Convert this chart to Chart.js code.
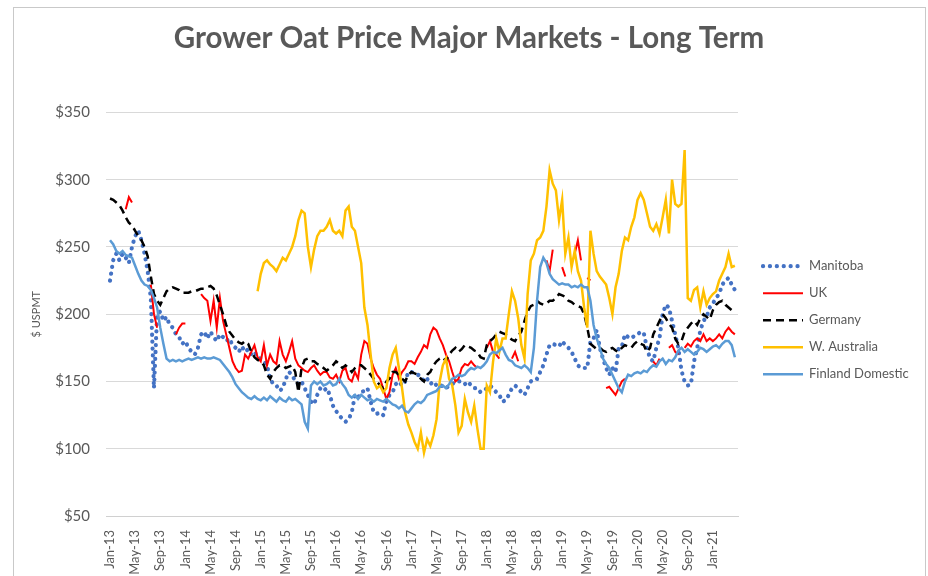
<!DOCTYPE html>
<html>
<head>
<meta charset="utf-8">
<title>Grower Oat Price Major Markets - Long Term</title>
<script src="https://cdn.jsdelivr.net/npm/chart.js@4"></script>
<style>
  html, body { margin: 0; padding: 0; background: #fff; overflow: hidden; }
  #wrap { position: relative; width: 928px; height: 576px; }
  #frame { position: absolute; left: 13px; top: 7px; width: 911px; height: 600px; border: 1px solid #c9c9c9; pointer-events: none; }
</style>
</head>
<body>
<div id="wrap">
  <canvas id="oatChart" width="928" height="576"></canvas>
  <div id="frame"></div>
</div>
<script>
// prices in $ US per tonne, two readings a month from Jan-13 to May-21 (24 per row = one year)
const manitoba = [
  225, 240, 245, 240, 245, 242, 238, 250, 258, 262, 255, 245, 232, 212, 145, 200, 202, 195, 198, 192, 190, 185, 183, 178,
  180, 175, 172, 170, 175, 185, 187, 182, 187, 183, 180, 185, 183, 180, 182, 177, 175, 172, 176, 172, 174, 170, 172, 168,
  167, 165, 162, 152, 148, 147, 143, 145, 152, 157, 155, 150, 148, 150, 145, 140, 135, 133, 140, 145, 143, 145, 140, 132,
  128, 125, 122, 120, 122, 127, 140, 138, 142, 143, 145, 135, 127, 126, 127, 125, 135, 140, 142, 148, 150, 147, 150, 157,
  157, 156, 155, 154, 150, 152, 148, 150, 147, 148, 146, 145, 147, 148, 150, 150, 150, 148, 150, 147, 145, 145, 142, 143,
  145, 147, 145, 142, 140, 135, 136, 140, 145, 147, 145, 142, 140, 145, 150, 152, 152, 157, 162, 170, 177, 178, 177, 176,
  180, 177, 175, 172, 167, 162, 160, 160, 160, 180, 182, 188, 175, 167, 160, 155, 160, 157, 175, 176, 185, 183, 182, 184,
  185, 187, 186, 175, 167, 165, 175, 182, 200, 207, 205, 195, 185, 175, 158, 150, 147, 148, 165, 175, 188, 195, 198, 205,
  208, 212, 215, 222, 225, 227, 222, 218
];

const uk = [
  null, null, null, null, null, 278, 287, 283, null, null, null, null, null, 222, 200, 190, null, null, null, null, null, 185, 190, 193,
  193, null, null, null, null, 215, 212, 210, 195, 210, 190, 212, 195, 185, 175, 165, 160, 157, 158, 170, 167, 172, 177, 168,
  165, 177, 162, 170, 165, 163, 180, 170, 165, 172, 180, 167, 162, 160, 158, 157, 160, 162, 158, 155, 157, 157, 153, 152,
  155, 150, 158, 160, 152, 150, 157, 152, 170, 180, 178, 167, 160, 155, 152, 145, 137, 142, 155, 160, 152, 157, 160, 165,
  165, 163, 168, 172, 177, 175, 185, 190, 188, 182, 177, 170, 165, 157, 150, 152, 160, 163, 162, 165, 162, 160, null, null,
  175, 180, 172, 170, 167, null, null, null, 167, 172, 165, null, null, null, null, null, null, null, null, 240, 232, 248, null, null,
  235, 228, null, null, 245, 255, 240, null, 227, 225, null, null, null, null, 145, 146, 143, 140, 145, 150, 152, null, null, null,
  null, null, null, null, null, 165, 162, 167, null, null, 175, 177, 172, 170, null, 175, 178, 176, 180, 182, 180, 185, 180, 182,
  180, 182, 185, 182, 187, 190, 187, 185
];

const germany = [
  286, 285, 283, 281, 277, 272, 268, 266, 262, 258, 255, 250, 243, 228, 215, 210, 207, 212, 217, 219, 220, 219, 218, 216,
  216, 216, 217, 217, 218, 219, 219, 220, 221, 219, 214, 207, 200, 192, 187, 184, 181, 179, 178, 180, 178, 172, 168, 166,
  165, 162, 155, 152, 157, 160, 162, 162, 160, 161, 162, 157, 142, 160, 166, 167, 165, 165, 163, 162, 160, 158, 160, 162,
  165, 163, 160, 162, 160, 157, 160, 162, 162, 160, 158, 155, 152, 150, 147, 145, 150, 152, 157, 157, 155, 152, 150, 155,
  157, 156, 155, 152, 150, 155, 157, 162, 165, 167, 168, 165, 170, 173, 175, 172, 174, 177, 176, 175, 173, 172, 168, 167,
  177, 180, 182, 185, 187, 186, 185, 183, 181, 180, 184, 187, 195, 202, 206, 207, 210, 208, 207, 208, 210, 210, 212, 215,
  214, 213, 210, 209, 207, 206, 205, 200, 190, 178, 176, 174, 175, 173, 172, 174, 175, 173, 172, 175, 177, 176, 175, 178,
  180, 178, 177, 172, 175, 185, 190, 195, 200, 197, 193, 190, 182, 178, 180, 187, 190, 193, 195, 192, 197, 200, 198, 196,
  203, 207, 209, 210, 207, 205, 203, 202
];

const wAustralia = [
  null, null, null, null, null, null, null, null, null, null, null, null, null, null, null, null, null, null, null, null, null, null, null, null,
  null, null, null, null, null, null, null, null, null, null, null, null, null, null, null, null, null, null, null, null, null, null, null, 217,
  230, 238, 240, 237, 235, 232, 237, 242, 240, 245, 250, 258, 270, 277, 275, 250, 235, 248, 258, 262, 262, 265, 270, 262,
  260, 262, 258, 277, 280, 265, 262, 250, 238, 205, 192, 170, 150, 145, 147, 142, 145, 160, 170, 175, 160, 145, 127, 118,
  112, 105, 100, 112, 97, 107, 102, 110, 122, 150, 162, 167, 152, 147, 132, 112, 117, 137, 127, 120, 132, 115, 100, 100,
  147, 142, 165, 182, 172, 182, 182, 200, 217, 210, 197, 177, 167, 215, 240, 245, 255, 257, 262, 280, 307, 297, 292, 270,
  285, 245, 257, 235, 247, 232, 225, 205, 190, 262, 245, 232, 228, 225, 222, 212, 200, 220, 230, 247, 257, 255, 265, 272,
  285, 290, 285, 275, 265, 262, 267, 260, 272, 285, 260, 300, 282, 280, 282, 322, 212, 210, 218, 220, 205, 217, 207, 212,
  215, 217, 225, 230, 235, 245, 235, 236
];

const finland = [
  255, 252, 247, 245, 247, 244, 243, 242, 236, 230, 225, 222, 221, 218, 212, 205, 190, 178, 167, 165, 166, 165, 166, 165,
  166, 167, 166, 167, 168, 167, 168, 167, 167, 168, 167, 166, 163, 160, 157, 153, 148, 145, 142, 140, 138, 137, 139, 137,
  136, 138, 136, 139, 137, 135, 138, 136, 135, 138, 136, 137, 135, 133, 120, 115, 147, 150, 148, 150, 147, 148, 150, 147,
  148, 152, 148, 145, 140, 138, 140, 137, 140, 138, 136, 137, 135, 137, 136, 135, 137, 135, 133, 132, 130, 132, 128, 127,
  130, 133, 135, 134, 136, 140, 141, 142, 143, 146, 147, 145, 148, 152, 153, 155, 154, 155, 158, 160, 159, 161, 160, 162,
  165, 170, 172, 171, 173, 175, 170, 166, 165, 162, 161, 160, 162, 160, 157, 175, 210, 235, 242, 238, 230, 226, 224, 222,
  223, 222, 222, 220, 221, 220, 222, 220, 220, 210, 192, 182, 175, 167, 163, 160, 155, 150, 145, 142, 150, 155, 154, 156,
  157, 156, 158, 157, 160, 162, 161, 165, 167, 163, 166, 165, 168, 173, 175, 172, 174, 172, 170, 172, 175, 174, 172, 174,
  176, 177, 175, 178, 180, 180, 177, 168
];

const seriesNames = ['Manitoba', 'UK', 'Germany', 'W. Australia', 'Finland Domestic'];

// months counted from Jan-13
const tickMonths = [0, 4, 8, 12, 16, 20, 24, 28, 32, 36, 40, 44, 48, 52, 56, 60, 64, 68, 72, 76, 80, 84, 88, 92, 96];
const tickLabels = ['Jan-13', 'May-13', 'Sep-13', 'Jan-14', 'May-14', 'Sep-14', 'Jan-15', 'May-15', 'Sep-15',
  'Jan-16', 'May-16', 'Sep-16', 'Jan-17', 'May-17', 'Sep-17', 'Jan-18', 'May-18', 'Sep-18',
  'Jan-19', 'May-19', 'Sep-19', 'Jan-20', 'May-20', 'Sep-20', 'Jan-21'];

const halfMonths = finland.map((v, i) => i / 2);

function points(values) {
    return values.map((v, i) => ({ x: halfMonths[i], y: v }));
}

// legend drawn by hand so it sits where the excel one does
const sideLegend = {
    id: 'sideLegend',
    afterDraw(chart) {
        const ctx = chart.ctx;
        const area = chart.chartArea;
        const x0 = area.right + 25;
        const midY = (area.top + area.bottom) / 2 + 6;
        chart.data.datasets.forEach((ds, i) => {
            const y = midY + (i - 2) * 27;
            ctx.save();
            ctx.strokeStyle = ds.borderColor;
            ctx.lineWidth = ds.borderWidth;
            ctx.lineCap = ds.borderCapStyle || 'butt';
            ctx.setLineDash(ds.borderDash || []);
            ctx.beginPath();
            ctx.moveTo(x0, y);
            ctx.lineTo(x0 + 40, y);
            ctx.stroke();
            ctx.setLineDash([]);
            ctx.fillStyle = '#595959';
            ctx.font = '13px Lato';
            ctx.textBaseline = 'middle';
            ctx.fillText(ds.label, x0 + 46, y);
            ctx.restore();
        });
    }
};

new Chart(document.getElementById('oatChart'), {
    type: 'line',
    data: {
        datasets: [
            { label: seriesNames[0], data: points(manitoba), borderColor: '#4472C4', borderWidth: 4.2, borderDash: [0.1, 6.8], borderCapStyle: 'round', order: 5 },
            { label: seriesNames[1], data: points(uk), borderColor: '#FF0000', borderWidth: 2, order: 4 },
            { label: seriesNames[2], data: points(germany), borderColor: '#000000', borderWidth: 2.5, borderDash: [8, 5], order: 3 },
            { label: seriesNames[3], data: points(wAustralia), borderColor: '#FFC000', borderWidth: 2.5, order: 2 },
            { label: seriesNames[4], data: points(finland), borderColor: '#5B9BD5', borderWidth: 2.5, order: 1 }
        ]
    },
    options: {
        responsive: false,
        animation: false,
        elements: {
            line: { tension: 0 },
            point: { radius: 0 }
        },
        layout: { padding: { left: 30, right: 20, top: 0, bottom: 0 } },
        plugins: {
            legend: { display: false },
            tooltip: { enabled: false },
            title: {
                display: true,
                text: 'Grower Oat Price Major Markets - Long Term',
                color: '#595959',
                font: { family: 'Lato', size: 29.5, weight: 'bold' },
                padding: { top: 21, bottom: 56 }
            }
        },
        scales: {
            x: {
                type: 'linear',
                min: -0.64,
                max: 100,
                grid: { display: false },
                border: { color: '#d0d0d0' },
                afterBuildTicks: (axis) => { axis.ticks = tickMonths.map(v => ({ value: v })); },
                afterFit: (axis) => { axis.height = 60; },
                ticks: {
                    autoSkip: false,
                    minRotation: 90,
                    maxRotation: 90,
                    padding: 6,
                    color: '#595959',
                    font: { family: 'Lato', size: 13 },
                    callback: (value, index) => tickLabels[index]
                }
            },
            y: {
                min: 50,
                max: 350,
                ticks: {
                    stepSize: 50,
                    padding: 16,
                    color: '#595959',
                    font: { family: 'Lato', size: 15 },
                    callback: (value) => '$' + value
                },
                grid: { color: '#d9d9d9', drawTicks: false },
                border: { display: false },
                title: {
                    display: true,
                    text: '$ USPMT',
                    color: '#595959',
                    font: { family: 'Lato', size: 11 },
                    padding: 0
                },
                afterFit: (axis) => { axis.width = 76; }
            },
            // empty right-hand axis that just keeps room for the legend
            legendSpace: {
                position: 'right',
                grid: { display: false },
                border: { display: false },
                ticks: { display: false },
                afterFit: (axis) => { axis.width = 170; }
            }
        }
    },
    plugins: [sideLegend]
});
</script>
</body>
</html>
